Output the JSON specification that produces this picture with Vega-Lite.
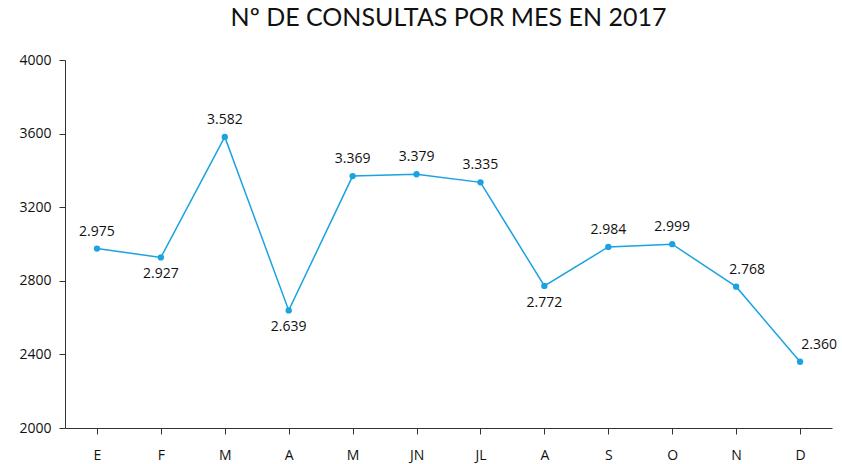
{
  "$schema": "https://vega.github.io/schema/vega-lite/v6.json",
  "autosize": "none",
  "width": 767,
  "height": 368,
  "padding": {"left": 65, "top": 60, "right": 10, "bottom": 36},
  "config": {
    "view": {"stroke": null},
    "locale": {"number": {"decimal": ",", "thousands": ".", "grouping": [3], "currency": ["", " €"]}},
    "font": "Open Sans"
  },
  "title": {
    "text": "Nº DE CONSULTAS POR MES EN 2017",
    "font": "Lato",
    "fontSize": 25,
    "fontWeight": "normal",
    "color": "#111111",
    "anchor": "middle",
    "offset": 22
  },
  "data": {
    "values": [
      {"m": 1, "mes": "E", "consultas": 2975},
      {"m": 2, "mes": "F", "consultas": 2927},
      {"m": 3, "mes": "M", "consultas": 3582},
      {"m": 4, "mes": "A", "consultas": 2639},
      {"m": 5, "mes": "M", "consultas": 3369},
      {"m": 6, "mes": "JN", "consultas": 3379},
      {"m": 7, "mes": "JL", "consultas": 3335},
      {"m": 8, "mes": "A", "consultas": 2772},
      {"m": 9, "mes": "S", "consultas": 2984},
      {"m": 10, "mes": "O", "consultas": 2999},
      {"m": 11, "mes": "N", "consultas": 2768},
      {"m": 12, "mes": "D", "consultas": 2360}
    ]
  },
  "encoding": {
    "x": {
      "field": "m",
      "type": "ordinal",
      "scale": {"type": "point", "padding": 0.5},
      "axis": {
        "title": null,
        "labelAngle": 0,
        "labelExpr": "['E','F','M','A','M','JN','JL','A','S','O','N','D'][datum.value-1]",
        "labelFont": "Open Sans",
        "labelFontSize": 14,
        "labelColor": "#111111",
        "labelPadding": 14,
        "domainColor": "#333333",
        "tickColor": "#333333",
        "tickSize": 6,
        "grid": false
      }
    },
    "y": {
      "field": "consultas",
      "type": "quantitative",
      "scale": {"domain": [2000, 4000], "nice": false, "zero": false},
      "axis": {
        "title": null,
        "values": [2000, 2400, 2800, 3200, 3600, 4000],
        "format": "d",
        "labelFont": "Open Sans",
        "labelFontSize": 14,
        "labelColor": "#111111",
        "labelPadding": 8,
        "domainColor": "#333333",
        "tickColor": "#333333",
        "tickSize": 6,
        "grid": false
      }
    }
  },
  "layer": [
    {"mark": {"type": "line", "color": "#1AA3E0", "strokeWidth": 1.5}},
    {"mark": {"type": "point", "filled": true, "color": "#1AA3E0", "size": 40, "opacity": 1}},
    {
      "transform": [{"filter": {"field": "m", "oneOf": [1, 3, 5, 6, 7, 9, 10]}}],
      "mark": {"type": "text", "dy": -17, "fontSize": 14, "font": "Open Sans", "color": "#111111"},
      "encoding": {"text": {"field": "consultas", "type": "quantitative", "format": ",d"}}
    },
    {
      "transform": [{"filter": {"field": "m", "oneOf": [2, 4, 8]}}],
      "mark": {"type": "text", "dy": 17, "fontSize": 14, "font": "Open Sans", "color": "#111111"},
      "encoding": {"text": {"field": "consultas", "type": "quantitative", "format": ",d"}}
    },
    {
      "transform": [{"filter": {"field": "m", "oneOf": [11]}}],
      "mark": {"type": "text", "dx": 11, "dy": -17, "fontSize": 14, "font": "Open Sans", "color": "#111111"},
      "encoding": {"text": {"field": "consultas", "type": "quantitative", "format": ",d"}}
    },
    {
      "transform": [{"filter": {"field": "m", "oneOf": [12]}}],
      "mark": {"type": "text", "dx": 19, "dy": -17, "fontSize": 14, "font": "Open Sans", "color": "#111111"},
      "encoding": {"text": {"field": "consultas", "type": "quantitative", "format": ",d"}}
    }
  ]
}
